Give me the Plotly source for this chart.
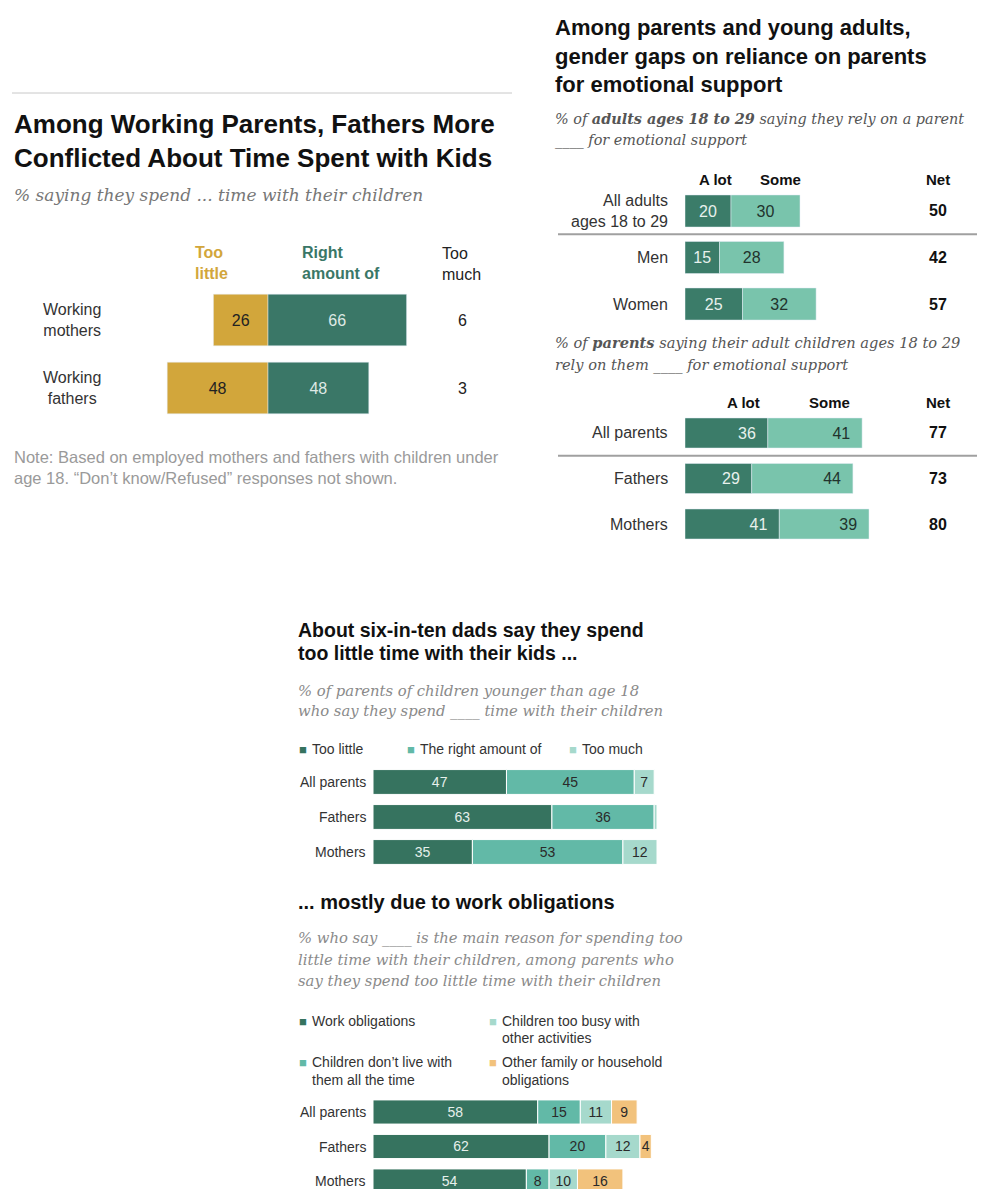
import plotly.graph_objects as go

# The page body adds an 8px margin, so the figure is drawn 8px smaller
# and every reference pixel position is shifted by that offset.
OFF = 8
FW, FH = 992 - OFF, 1189 - OFF


def X(px):
    return (px - OFF) / FW


def Y(py):
    return 1 - (py - OFF) / FH


SANS = "Liberation Sans, Arial, sans-serif"
SERIF = "DejaVu Serif, Georgia, serif"

# ---------------- data ----------------
# Panel 1: working parents
p1_groups = ["Working mothers", "Working fathers"]
p1_labels = ["Working<br>mothers", "Working<br>fathers"]
p1_too_little = [26, 48]
p1_right = [66, 48]
p1_too_much = [6, 3]

# Panel 2a: adults 18-29 rely on parent
p2a_groups = ["All adults ages 18 to 29", "Men", "Women"]
p2a_labels = ["All adults<br>ages 18 to 29", "Men", "Women"]
p2a_alot = [20, 15, 25]
p2a_some = [30, 28, 32]
p2a_net = [50, 42, 57]

# Panel 2b: parents say adult children rely on them
p2b_groups = ["All parents", "Fathers", "Mothers"]
p2b_alot = [36, 29, 41]
p2b_some = [41, 44, 39]
p2b_net = [77, 73, 80]

# Panel 3: time spent with children
p3_groups = ["All parents", "Fathers", "Mothers"]
p3_too_little = [47, 63, 35]
p3_right = [45, 36, 53]
p3_too_much = [7, 1, 12]
p3_too_much_text = ["7", "", "12"]

# Panel 4: main reasons
p4_groups = ["All parents", "Fathers", "Mothers"]
p4_work = [58, 62, 54]
p4_dont_live = [15, 20, 8]
p4_too_busy = [11, 12, 10]
p4_other = [9, 4, 16]

# ---------------- colours ----------------
GOLD = "#d2a63b"
TEAL1 = "#3a7767"
P2_DARK = "#3b7c69"
P2_LIGHT = "#79c4ac"
DARK = "#36735f"
MID = "#62b9a7"
LIGHT = "#a6d9cc"
ORANGE = "#f2c27c"

fig = go.Figure()


def bar(y, x, color, text, axis, width, tcolor, tsize, anchor="middle", line=None):
    kw = {}
    if line:
        kw["marker_line"] = dict(color=line, width=1)
    fig.add_trace(go.Bar(
        y=y, x=x, orientation="h", marker_color=color, text=text,
        textposition="inside", insidetextanchor=anchor, constraintext="none",
        textfont=dict(color=tcolor, size=tsize, family=SANS), width=width,
        xaxis="x" + axis, yaxis="y" + axis, showlegend=False, hoverinfo="skip",
        cliponaxis=False, **kw))


# Panel 1
bar(p1_groups, [-v for v in p1_too_little], GOLD, [str(v) for v in p1_too_little], "", 0.76, "#222", 16)
bar(p1_groups, p1_right, TEAL1, [str(v) for v in p1_right], "", 0.76, "#dfe9e5", 16)

# Panel 2a
bar(p2a_groups, p2a_alot, P2_DARK, [str(v) for v in p2a_alot], "2", 0.69, "#e8f1ed", 16)
bar(p2a_groups, p2a_some, P2_LIGHT, [str(v) for v in p2a_some], "2", 0.69, "#22332d", 16)

# Panel 2b
pad = "\u00a0\u00a0"
bar(p2b_groups, p2b_alot, P2_DARK, [str(v) + pad for v in p2b_alot], "3", 0.66, "#e8f1ed", 16, anchor="end")
bar(p2b_groups, p2b_some, P2_LIGHT, [str(v) + pad for v in p2b_some], "3", 0.66, "#22332d", 16, anchor="end")

# Panel 3
bar(p3_groups, p3_too_little, DARK, [str(v) for v in p3_too_little], "4", 0.71, "#e6f0ec", 14, line="white")
bar(p3_groups, p3_right, MID, [str(v) for v in p3_right], "4", 0.71, "#2a2a2a", 14, line="white")
bar(p3_groups, p3_too_much, LIGHT, p3_too_much_text, "4", 0.71, "#2a2a2a", 14, line="white")

# Panel 4
bar(p4_groups, p4_work, DARK, [str(v) for v in p4_work], "5", 0.70, "#e6f0ec", 14, line="white")
bar(p4_groups, p4_dont_live, MID, [str(v) for v in p4_dont_live], "5", 0.70, "#2a2a2a", 14, line="white")
bar(p4_groups, p4_too_busy, LIGHT, [str(v) for v in p4_too_busy], "5", 0.70, "#2a2a2a", 14, line="white")
bar(p4_groups, p4_other, ORANGE, [str(v) for v in p4_other], "5", 0.70, "#2a2a2a", 14, line="white")

ann = []


def txt(x, y, text, size, color="#222", family=SANS, xanchor="left", yanchor="middle", yref="paper", align="left"):
    ann.append(dict(
        x=X(x), y=(Y(y) if yref == "paper" else y), xref="paper", yref=yref,
        text=text, showarrow=False, xanchor=xanchor, yanchor=yanchor, align=align,
        font=dict(size=size, color=color, family=family)))


# ---- Panel 1 text ----
txt(12, 124, "<b>Among Working Parents, Fathers More</b>", 26, "#111")
txt(12, 158, "<b>Conflicted About Time Spent with Kids</b>", 26, "#111")
txt(12, 195, "<i>% saying they spend ... time with their children</i>", 17, "#777", SERIF)
txt(193, 263, "<b>Too<br>little</b>", 16, GOLD)
txt(300, 263, "<b>Right<br>amount of</b>", 16, TEAL1)
txt(440, 264, "Too<br>much", 16, "#222")
for g, lab, tm in zip(p1_groups, p1_labels, p1_too_much):
    txt(72, g, lab, 16, "#333", xanchor="center", yref="y", align="center")
    txt(462, g, str(tm), 16, "#222", xanchor="center", yref="y")
txt(12, 457, "Note: Based on employed mothers and fathers with children under", 16.5, "#9a9a9a")
txt(12, 478, "age 18. \u201cDon\u2019t know/Refused\u201d responses not shown.", 16.5, "#9a9a9a")

# ---- Panel 2 text ----
txt(553, 28, "<b>Among parents and young adults,</b>", 22, "#111")
txt(553, 56, "<b>gender gaps on reliance on parents</b>", 22, "#111")
txt(553, 85, "<b>for emotional support</b>", 22, "#111")
txt(553, 118, "<i>% of <b>adults ages 18 to 29</b> saying they rely on a parent</i>", 14.4, "#555", SERIF)
txt(553, 141, "<i>____ for emotional support</i>", 14.4, "#555", SERIF)
txt(715, 180, "<b>A lot</b>", 15, "#111", xanchor="center")
txt(780, 180, "<b>Some</b>", 15, "#111", xanchor="center")
txt(938, 180, "<b>Net</b>", 15, "#111", xanchor="center")
for g, lab, n in zip(p2a_groups, p2a_labels, p2a_net):
    txt(670, g, lab, 16, "#333", xanchor="right", yref="y2", align="right")
    txt(938, g, "<b>" + str(n) + "</b>", 16, "#111", xanchor="center", yref="y2")
txt(553, 342, "<i>% of <b>parents</b> saying their adult children ages 18 to 29</i>", 14.6, "#555", SERIF)
txt(553, 365, "<i>rely on them ____ for emotional support</i>", 14.6, "#555", SERIF)
txt(743, 402, "<b>A lot</b>", 15, "#111", xanchor="center")
txt(829, 402, "<b>Some</b>", 15, "#111", xanchor="center")
txt(938, 402, "<b>Net</b>", 15, "#111", xanchor="center")
for g, n in zip(p2b_groups, p2b_net):
    txt(670, g, g, 16, "#333", xanchor="right", yref="y3")
    txt(938, g, "<b>" + str(n) + "</b>", 16, "#111", xanchor="center", yref="y3")

# ---- Panel 3 text ----
txt(296, 630, "<b>About six-in-ten dads say they spend</b>", 19.5, "#111")
txt(296, 653, "<b>too little time with their kids ...</b>", 19.5, "#111")
txt(296, 690, "<i>% of parents of children younger than age 18</i>", 14.8, "#8a8a8a", SERIF)
txt(296, 711, "<i>who say they spend ____ time with their children</i>", 14.8, "#8a8a8a", SERIF)


def leg(x, y, color, text):
    txt(x, y, '<span style="color:%s">\u25a0</span>' % color, 13, color)
    txt(x + 13, y, text, 14, "#333")


leg(297, 749, DARK, "Too little")
leg(405, 749, MID, "The right amount of")
leg(567, 749, LIGHT, "Too much")
for g in p3_groups:
    txt(368, g, g, 14, "#333", xanchor="right", yref="y4")

# ---- Panel 4 text ----
txt(296, 902, "<b>... mostly due to work obligations</b>", 20, "#111")
txt(296, 938, "<i>% who say ____ is the main reason for spending too</i>", 14.8, "#8a8a8a", SERIF)
txt(296, 959, "<i>little time with their children, among parents who</i>", 14.8, "#8a8a8a", SERIF)
txt(296, 980, "<i>say they spend too little time with their children</i>", 14.8, "#8a8a8a", SERIF)
leg(297, 1021, DARK, "Work obligations")
leg(487, 1021, LIGHT, "Children too busy with")
txt(500, 1038, "other activities", 14, "#333")
leg(297, 1062, MID, "Children don\u2019t live with")
txt(310, 1080, "them all the time", 14, "#333")
leg(487, 1062, ORANGE, "Other family or household")
txt(500, 1080, "obligations", 14, "#333")
for g in p4_groups:
    txt(368, g, g, 14, "#333", xanchor="right", yref="y5")

shapes = [
    dict(type="line", xref="paper", yref="paper", x0=X(12), x1=X(512), y0=Y(93), y1=Y(93),
         line=dict(color="#c8c8c8", width=1)),
    dict(type="line", xref="paper", yref="y2", x0=X(558), x1=X(977), y0=0.5, y1=0.5,
         line=dict(color="#a0a0a0", width=2)),
    dict(type="line", xref="paper", yref="y3", x0=X(558), x1=X(977), y0=0.5, y1=0.5,
         line=dict(color="#a0a0a0", width=2)),
]


def xax(d0, d1, r):
    return dict(domain=[X(d0), X(d1)], range=r, visible=False, fixedrange=True)


def yax(top, bottom, cats, r):
    return dict(domain=[max(0, Y(bottom)), Y(top)], range=r, type="category",
                categoryorder="array", categoryarray=cats, visible=False, fixedrange=True)


s1 = 2.1
s2 = 2.3
fig.update_layout(
    width=FW, height=FH, margin=dict(l=0, r=0, t=0, b=0),
    paper_bgcolor="white", plot_bgcolor="rgba(0,0,0,0)",
    barmode="relative", showlegend=False,
    xaxis=xax(150, 420, [-(268 - 150) / s1, (420 - 268) / s1]),
    yaxis=yax(286, 422, p1_groups, [1.5, -0.5]),
    xaxis2=xax(685, 985, [0, 300 / s2]),
    yaxis2=yax(187.75, 327.25, p2a_groups, [2.5, -0.5]),
    xaxis3=xax(685, 985, [0, 300 / s2]),
    yaxis3=yax(410.25, 546.75, p2b_groups, [2.5, -0.5]),
    xaxis4=xax(373, 657, [0, 100]),
    yaxis4=yax(764.5, 869.5, p3_groups, [2.5, -0.5]),
    xaxis5=xax(373, 657, [0, 100]),
    yaxis5=yax(1094.75, 1189, p4_groups, [2.5 - (1198.25 - 1189) / 34.5, -0.5]),
    annotations=ann, shapes=shapes,
)

fig.write_html("out.html")
